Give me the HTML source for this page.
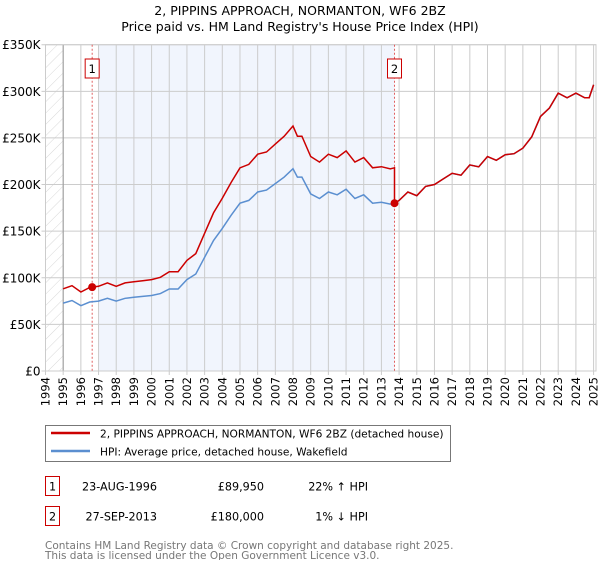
<!DOCTYPE html>
<html><head><meta charset="utf-8"><style>
body{margin:0;background:#fff;font-family:"DejaVu Sans","Liberation Sans",sans-serif;}
svg text{font-family:"DejaVu Sans","Liberation Sans",sans-serif;}
</style></head><body>
<svg id="c" width="600" height="560" xmlns="http://www.w3.org/2000/svg">
<text x="300" y="15" text-anchor="middle" font-size="12.5">2, PIPPINS APPROACH, NORMANTON, WF6 2BZ</text>
<text x="300" y="31" text-anchor="middle" font-size="12.5">Price paid vs. HM Land Registry's House Price Index (HPI)</text>
<g id="plot"></g>
<g>
<rect x="45.5" y="425.5" width="405" height="36" fill="#fff" stroke="#777"/>
<line x1="51" y1="433" x2="90" y2="433" stroke="#cc0000" stroke-width="2.5"/>
<text x="100" y="437.5" font-size="10.6">2, PIPPINS APPROACH, NORMANTON, WF6 2BZ (detached house)</text>
<line x1="51" y1="451" x2="90" y2="451" stroke="#5b8fd0" stroke-width="2.5"/>
<text x="100" y="455.5" font-size="10.6">HPI: Average price, detached house, Wakefield</text>
</g>
<g font-size="11.2">
<rect x="45.5" y="476.5" width="14" height="19" fill="#fff" stroke="#cc0000"/>
<text x="52.5" y="490.5" text-anchor="middle">1</text>
<text x="157" y="490.5" text-anchor="end">23-AUG-1996</text>
<text x="264" y="490.5" text-anchor="end">£89,950</text>
<text x="368" y="490.5" text-anchor="end">22% ↑ HPI</text>
<rect x="45.5" y="506.5" width="14" height="19" fill="#fff" stroke="#cc0000"/>
<text x="52.5" y="520.5" text-anchor="middle">2</text>
<text x="157" y="520.5" text-anchor="end">27-SEP-2013</text>
<text x="264" y="520.5" text-anchor="end">£180,000</text>
<text x="368" y="520.5" text-anchor="end">1% ↓ HPI</text>
</g>
<text x="45" y="549" font-size="10.5" fill="#777">Contains HM Land Registry data © Crown copyright and database right 2025.</text>
<text x="45" y="559" font-size="10.5" fill="#777">This data is licensed under the Open Government Licence v3.0.</text>
</svg>
<script>
const hpiYears=[1995,1995.5,1996,1996.5,1997,1997.5,1998,1998.5,1999,1999.5,2000,2000.5,2001,2001.5,2002,2002.5,2003,2003.5,2004,2004.5,2005,2005.5,2006,2006.5,2007,2007.5,2008,2008.25,2008.5,2009,2009.5,2010,2010.5,2011,2011.5,2012,2012.5,2013,2013.5,2013.75,2014,2014.5,2015,2015.5,2016,2016.5,2017,2017.5,2018,2018.5,2019,2019.5,2020,2020.5,2021,2021.5,2022,2022.5,2023,2023.5,2024,2024.5,2024.75,2025];
const hpiValues=[72.8,75.6,70,74,75,78,75,78,79,80,81,83,88,88,98,104,122,140,153,167,180,183,192,194,201,208,217,208,208,190,185,192,189,195,185,189,180,181,179,180,183,192,188,198,200,206,212,210,221,219,230,226,232,233,239,251,273,282,298,293,298,293,293,307];
const saleYears=[1996.64,2013.74];
const salePrices=[89.95,180];
const saleLabels=["1","2"];
const yTicks=[0,50,100,150,200,250,300,350];
const yTickLabels=["£0","£50K","£100K","£150K","£200K","£250K","£300K","£350K"];
const xTicks=[1994,1995,1996,1997,1998,1999,2000,2001,2002,2003,2004,2005,2006,2007,2008,2009,2010,2011,2012,2013,2014,2015,2016,2017,2018,2019,2020,2021,2022,2023,2024,2025];

const NS="http://www.w3.org/2000/svg";
const X0=45.5,X1=596,Y0=371,Y1=44.7;
const xs=y=>45.5+(y-1994)*17.68;
const ys=v=>Y0-(v/350)*(Y0-Y1);
const g=document.getElementById('plot');
function mk(t,a,p){const e=document.createElementNS(NS,t);for(const k in a)e.setAttribute(k,a[k]);(p||g).appendChild(e);return e;}
const bg=mk('rect',{x:X0,y:Y1,width:X1-X0,height:Y0-Y1,fill:'#fff'});


const defs=mk('defs',{});
const pat=mk('pattern',{id:'h',width:8,height:8,patternUnits:'userSpaceOnUse',patternTransform:'rotate(45)'},defs);
mk('line',{x1:0,y1:0,x2:0,y2:8,stroke:'#d8d8d8','stroke-width':1},pat);
const hr=mk('rect',{x:X0,y:Y1,width:xs(1995)-X0,height:Y0-Y1,fill:'url(#h)'});


const sh=mk('rect',{x:xs(1997),y:Y1,width:xs(saleYears[1])-xs(1997),height:Y0-Y1,fill:'#eef3fc',opacity:0.8});


xTicks.forEach(t=>{
  const l=mk('line',{x1:xs(t),x2:xs(t),y1:Y1,y2:Y0+4,stroke:'#ccc','stroke-width':1});
  
  
  const tx=mk('text',{x:0,y:0,'font-size':11.5,'text-anchor':'end',transform:`translate(${xs(t)+4},${Y0+6}) rotate(-90)`});
  tx.textContent=t;
  
  
});
yTicks.forEach((t,i)=>{
  const l=mk('line',{x1:X0-4,x2:X1,y1:ys(t),y2:ys(t),stroke:'#ccc','stroke-width':1});
  
  
  const tx=mk('text',{x:X0-5,y:ys(t)+4.5,'font-size':12,'text-anchor':'end'});
  tx.textContent=yTickLabels[i];
  
  
});
mk('line',{x1:xs(1995),x2:xs(1995),y1:Y1,y2:Y0,stroke:'#999'});
mk('rect',{x:X0,y:Y1,width:X1-X0,height:Y0-Y1,fill:'none',stroke:'#ccc'});
saleYears.forEach((s,i)=>{
  const l=mk('line',{x1:xs(s),x2:xs(s),y1:Y1,y2:Y0,stroke:'#e06060','stroke-width':1,'stroke-dasharray':'2,2'});
  
  
  const r=mk('rect',{x:xs(s)-7,y:59,width:14,height:19,fill:'#fff',stroke:'#cc0000'});
  
  
  const t=mk('text',{x:xs(s),y:73,'font-size':11.5,'text-anchor':'middle'});
  t.textContent=saleLabels[i];
});
function hpiAt(y){for(let i=0;i<hpiYears.length-1;i++){if(y<=hpiYears[i+1]){const f=(y-hpiYears[i])/(hpiYears[i+1]-hpiYears[i]);return hpiValues[i]+f*(hpiValues[i+1]-hpiValues[i]);}}return hpiValues[hpiValues.length-1];}
const r1=salePrices[0]/hpiAt(saleYears[0]), r2=salePrices[1]/hpiAt(saleYears[1]);
let hp='',rp='';
hpiYears.forEach((y,i)=>{hp+=(i?'L':'M')+xs(y).toFixed(1)+','+ys(hpiValues[i]).toFixed(1);});
let pts=[];
hpiYears.forEach((y,i)=>{if(y<saleYears[1])pts.push([y,hpiValues[i]*r1]);});
pts.push([saleYears[1],hpiAt(saleYears[1])*r1]);
pts.push([saleYears[1],salePrices[1]]);
hpiYears.forEach((y,i)=>{if(y>saleYears[1])pts.push([y,hpiValues[i]*r2]);});
pts.forEach((p,i)=>{rp+=(i?'L':'M')+xs(p[0]).toFixed(1)+','+ys(p[1]).toFixed(1);});
const hl=mk('path',{d:hp,fill:'none',stroke:'#5b8fd0','stroke-width':1.5});


const pl=mk('path',{d:rp,fill:'none',stroke:'#cc0000','stroke-width':1.5});


saleYears.forEach((s,i)=>{
  const c=mk('circle',{cx:xs(s),cy:ys(salePrices[i]),r:4,fill:'#cc0000'});
  
  
});
</script>
</body></html>
